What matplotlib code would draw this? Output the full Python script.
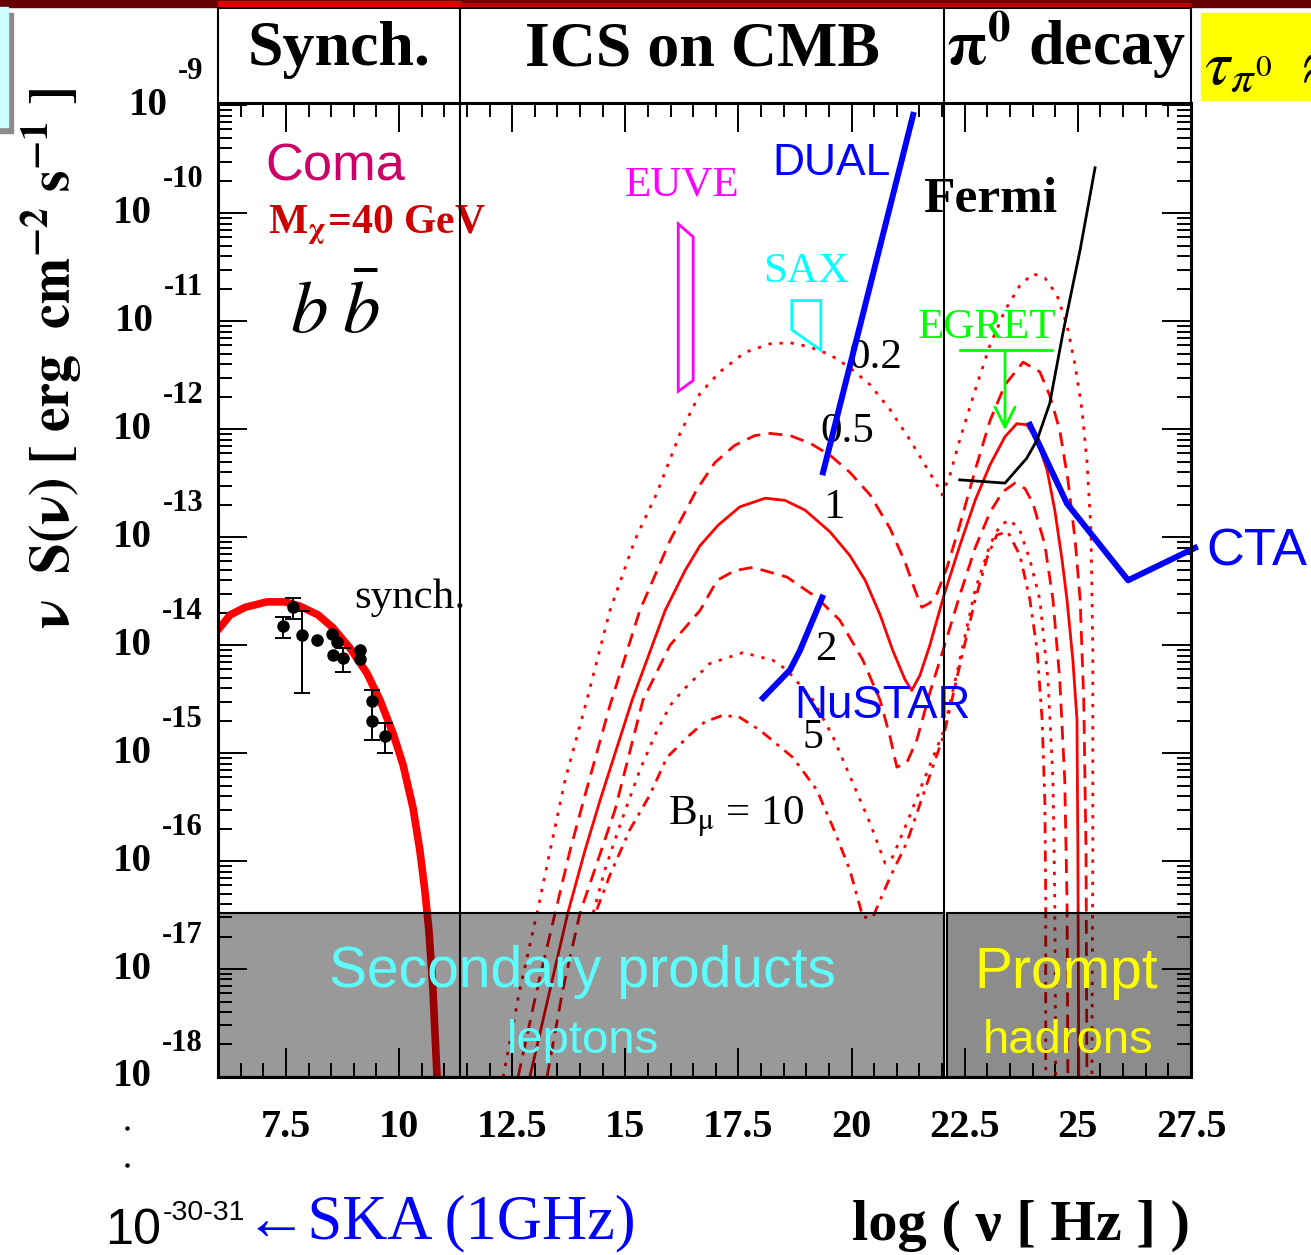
import numpy as np
import matplotlib
matplotlib.use('Agg')
import matplotlib.pyplot as plt
from matplotlib import font_manager
from matplotlib.patches import Rectangle, Polygon
from matplotlib.lines import Line2D
from matplotlib.ticker import FixedLocator, LogLocator, NullFormatter
from matplotlib.transforms import blended_transform_factory, offset_copy

plt.rcParams['mathtext.fontset'] = 'stix'
SERIF = 'Liberation Serif'
SANS = 'Liberation Sans'
names = {f.name for f in font_manager.fontManager.ttflist}
NARROW = 'Liberation Sans Narrow' if 'Liberation Sans Narrow' in names else SANS
shrink = 1.0 if NARROW != SANS else 0.82   # plain sans is wider than the narrow cut

# everything below is log10: x = log10(nu/Hz), y = log10(nu S(nu) / erg cm^-2 s^-1)

# synchrotron model fitted to the Coma radio halo
synch_x = [6.00, 6.27, 6.60, 7.08, 7.48, 7.81, 8.21, 8.54, 8.92, 9.29, 9.58, 9.87,
           10.09, 10.31, 10.46, 10.57, 10.66, 10.75, 10.84]
synch_y = [-13.86, -13.72, -13.65, -13.60, -13.60, -13.64, -13.72, -13.84, -14.03,
           -14.26, -14.51, -14.82, -15.11, -15.51, -15.90, -16.27, -16.64, -17.19, -18.00]

# radio data
radio_x = [7.44, 7.65, 7.85, 8.18, 8.51, 8.62, 8.55, 8.77, 9.13, 9.13, 9.40, 9.41, 9.69]
radio_y = [-13.82, -13.65, -13.91, -13.95, -13.90, -13.97, -14.09, -14.12, -14.05,
           -14.13, -14.52, -14.70, -14.84]
err_x = [7.44, 7.65, 7.85, 8.77, 9.41, 9.69]
err_y = [-13.82, -13.65, -13.91, -14.12, -14.70, -14.84]
err_lo = [-13.93, -13.76, -14.44, -14.25, -14.88, -15.00]
err_hi = [-13.74, -13.56, -13.68, -14.03, -14.42, -14.72]

# ICS on CMB + pi0 decay, for B = 0.2, 0.5, 1, 2, 5, 10 muG
b02_x = [12.30, 12.67, 13.05, 13.34, 13.67, 14.15, 14.66, 15.21, 15.70, 16.21, 16.65,
         17.09, 17.64, 18.20, 18.64, 19.08, 19.52, 19.96, 20.41, 20.85, 21.29, 21.62,
         21.89, 22.00, 22.17, 22.39, 22.73, 23.06, 23.39, 23.72, 24.01, 24.27, 24.54,
         24.76, 24.94, 25.09, 25.20, 25.29, 25.33, 25.33, 25.31]
b02_y = [-18.00, -17.19, -16.48, -15.90, -15.25, -14.51, -13.68, -13.03, -12.59, -12.04,
         -11.67, -11.47, -11.29, -11.21, -11.20, -11.24, -11.31, -11.43, -11.59, -11.82,
         -12.10, -12.33, -12.52, -12.61, -12.43, -12.10, -11.64, -11.22, -10.90, -10.67,
         -10.56, -10.60, -10.76, -11.04, -11.41, -11.82, -12.29, -12.94, -14.05, -15.90,
         -18.00]

b05_x = [12.63, 13.05, 13.45, 13.78, 14.11, 14.66, 15.32, 15.99, 16.58, 16.98, 17.42,
         17.86, 18.20, 18.64, 19.08, 19.52, 19.96, 20.41, 20.85, 21.18, 21.40, 21.55,
         21.73, 21.89, 22.11, 22.39, 22.73, 23.06, 23.39, 23.79, 24.16, 24.38, 24.60,
         24.78, 24.94, 25.05, 25.13, 25.18, 25.20]
b05_y = [-18.00, -17.19, -16.48, -15.90, -15.39, -14.56, -13.68, -13.03, -12.56, -12.31,
         -12.15, -12.06, -12.04, -12.06, -12.13, -12.24, -12.40, -12.61, -12.92, -13.23,
         -13.49, -13.65, -13.61, -13.52, -13.28, -12.89, -12.38, -11.92, -11.59, -11.38,
         -11.47, -11.69, -12.01, -12.47, -13.03, -13.58, -14.51, -15.90, -18.00]

b1_x = [12.89, 13.73, 14.11, 14.44, 15.15, 15.88, 16.32, 16.65, 17.05, 17.53, 18.09,
        18.53, 18.97, 19.52, 19.96, 20.30, 20.63, 20.91, 21.18, 21.33, 21.51, 21.73,
        22.04, 22.39, 22.73, 23.06, 23.39, 23.65, 23.87, 24.10, 24.32, 24.49, 24.65,
        24.76, 24.89, 24.98, 25.00, 25.02]
b1_y = [-18.00, -16.48, -15.90, -15.44, -14.51, -13.68, -13.31, -13.08, -12.89, -12.72,
        -12.64, -12.66, -12.75, -12.95, -13.17, -13.40, -13.72, -14.05, -14.32, -14.42,
        -14.28, -14.00, -13.54, -13.08, -12.66, -12.33, -12.07, -11.95, -11.96, -12.10,
        -12.38, -12.75, -13.21, -13.58, -14.14, -14.69, -15.90, -18.00]

b2_x = [13.27, 13.62, 14.00, 14.77, 15.39, 15.99, 16.65, 17.03, 17.42, 17.82, 18.57,
        19.23, 19.74, 20.25, 20.63, 20.85, 21.00, 21.22, 21.44, 21.73, 22.02, 22.39,
        22.73, 23.06, 23.34, 23.61, 23.83, 24.01, 24.27, 24.45, 24.60, 24.71, 24.76, 24.78]
b2_y = [-18.00, -17.19, -16.48, -15.53, -14.51, -14.00, -13.68, -13.40, -13.31, -13.28,
        -13.37, -13.56, -13.77, -14.14, -14.51, -14.85, -15.13, -15.09, -14.88, -14.44,
        -14.05, -13.54, -13.10, -12.77, -12.58, -12.50, -12.55, -12.69, -13.07, -13.58,
        -14.32, -15.25, -16.36, -18.00]

b5_x = [14.29, 14.55, 14.88, 15.32, 15.66, 15.99, 16.27, 16.87, 17.60, 18.26, 18.57,
        19.15, 19.59, 20.03, 20.41, 20.74, 20.91, 21.22, 21.51, 21.80, 22.04, 22.39,
        22.73, 23.06, 23.28, 23.50, 23.72, 23.94, 24.16, 24.34, 24.45, 24.49, 24.51]
b5_y = [-16.48, -16.08, -15.67, -15.16, -14.83, -14.56, -14.42, -14.17, -14.07, -14.14,
        -14.23, -14.51, -14.85, -15.28, -15.65, -16.02, -15.96, -15.65, -15.34, -15.04,
        -14.79, -14.14, -13.49, -13.07, -12.89, -12.84, -12.94, -13.21, -13.58, -14.32,
        -15.25, -16.36, -18.00]

b10_x = [14.37, 14.66, 15.10, 15.54, 15.92, 16.43, 16.76, 17.16, 17.53, 17.98, 18.70,
         19.23, 19.59, 19.96, 20.25, 20.47, 20.85, 21.22, 21.62, 22.04, 22.39, 22.73,
         23.01, 23.21, 23.45, 23.72, 23.94, 24.10, 24.21, 24.27, 24.29, 24.29]
b10_y = [-16.45, -16.13, -15.71, -15.39, -15.04, -14.83, -14.71, -14.65, -14.67, -14.79,
         -15.04, -15.34, -15.69, -16.08, -16.52, -16.52, -16.15, -15.83, -15.34, -14.83,
         -14.19, -13.58, -13.17, -12.98, -12.95, -13.17, -13.58, -14.05, -14.69, -15.44,
         -16.36, -18.00]

# instrument sensitivities and upper limits
dual_x = [19.37, 21.36]
dual_y = [-12.40, -9.09]
nustar_x = [18.04, 18.64, 18.86, 19.35]
nustar_y = [-14.49, -14.23, -14.05, -13.56]
cta_x = [23.94, 24.76, 26.11, 27.59]
cta_y = [-11.96, -12.69, -13.40, -13.10]
fermi_x = [22.39, 23.39, 23.87, 24.10, 24.38, 24.67, 25.05, 25.38]
fermi_y = [-12.47, -12.50, -12.27, -12.10, -11.76, -11.11, -10.34, -9.58]
egret_x = [22.39, 24.43]
egret_y = -11.27
egret_arrow_x = 23.39
egret_arrow_to = -12.01
euve_x = [16.17, 16.50, 16.50, 16.17]
euve_y = [-10.10, -10.22, -11.55, -11.65]
sax_x = [18.68, 19.32, 19.32, 18.68]
sax_y = [-10.81, -10.81, -11.27, -11.08]

# panel separations
x_ics = 11.35
x_pi0 = 22.04
band_top = -16.48


def lin(v):
    return 10.0 ** np.asarray(v, dtype=float)


W, H = 1311, 1255
fig = plt.figure(figsize=(W / 100, H / 100), dpi=100)


def fx(px):
    return px / W


def fy(py):
    return 1 - py / H


ax = fig.add_axes([fx(218), fy(1077), fx(1191) - fx(218), fy(103) - fy(1077)])
ax.set_yscale('log')
ax.set_xlim(6, 27.5)
ax.set_ylim(1e-18, 10 ** -8.98)

red = '#ff0000'
dotted = (0, (1.2, 2.8))
dashed = (0, (5, 3))
dashdot = (0, (4, 2.5, 1.2, 2.5))
ax.plot(b02_x, lin(b02_y), color=red, lw=2, ls=dotted)
ax.plot(b05_x, lin(b05_y), color=red, lw=2, ls=dashed)
ax.plot(b1_x, lin(b1_y), color=red, lw=2, ls='-')
ax.plot(b2_x, lin(b2_y), color=red, lw=2, ls=dashed)
ax.plot(b5_x, lin(b5_y), color=red, lw=2, ls=dotted)
ax.plot(b10_x, lin(b10_y), color=red, lw=2, ls=dashdot)

ax.plot(synch_x, lin(synch_y), color=red, lw=5.5)
ax.plot(radio_x, lin(radio_y), 'o', color='k', ms=8, zorder=4)
ey = lin(err_y)
ax.errorbar(err_x, ey, yerr=[ey - lin(err_lo), lin(err_hi) - ey], fmt='none',
            ecolor='k', elinewidth=1.4, capsize=6, capthick=1.4, zorder=4)

# sensitivities
blue = '#0000ff'
ax.plot(dual_x, lin(dual_y), color=blue, lw=4.3, zorder=5)
ax.plot(nustar_x, lin(nustar_y), color=blue, lw=4.3, zorder=5)
ax.plot(cta_x, lin(cta_y), color=blue, lw=4.3, zorder=5, clip_on=False)
ax.plot(fermi_x, lin(fermi_y), color='k', lw=2, zorder=5)
ax.plot(egret_x, lin([egret_y, egret_y]), color='#00ff00', lw=2, zorder=5)
ax.annotate('', xy=(egret_arrow_x, 10 ** egret_arrow_to), xytext=(egret_arrow_x, 10 ** egret_y),
            arrowprops=dict(arrowstyle='->', color='#00ff00', lw=2, mutation_scale=36,
                            shrinkA=0, shrinkB=0), zorder=5)
ax.add_patch(Polygon(np.column_stack([euve_x, lin(euve_y)]), closed=True, fill=False,
                     edgecolor='#ff00ff', lw=2, zorder=5))
ax.add_patch(Polygon(np.column_stack([sax_x, lin(sax_y)]), closed=True, fill=False,
                     edgecolor='#00ffff', lw=2, zorder=5))

# grey band below the sensitivity floor
ax.add_patch(Rectangle((6, 1e-18), x_pi0 - 6, 10 ** band_top - 1e-18,
                       facecolor=(0, 0, 0, 0.4), edgecolor='k', lw=1.5, zorder=6))
ax.add_patch(Rectangle((x_pi0 + 0.07, 1e-18), 27.5 - x_pi0 - 0.07, 10 ** band_top - 1e-18,
                       facecolor=(0, 0, 0, 0.45), edgecolor='k', lw=1.5, zorder=6))

# panel dividers, continued into the header row
hdr = (fy(8) - fy(1077)) / (fy(103) - fy(1077))
for xd in (x_ics, x_pi0):
    ax.axvline(xd, 0, hdr, color='k', lw=1.5, clip_on=False, zorder=7)
ax.plot([0, 0], [1, hdr], transform=ax.transAxes, color='k', lw=1.5, clip_on=False)
ax.plot([1, 1], [1, hdr], transform=ax.transAxes, color='k', lw=1.5, clip_on=False)
ax.plot([0, 1], [hdr, hdr], transform=ax.transAxes, color='k', lw=1.5, clip_on=False)

# ticks
xt = np.arange(7.5, 27.6, 2.5)
ax.set_xticks(xt, labels=['7.5', '10', '12.5', '15', '17.5', '20', '22.5', '25', '27.5'],
              fontsize=29, fontweight='bold', family=SERIF)
ax.xaxis.set_minor_locator(FixedLocator(np.arange(6, 27.51, 0.5)))
ax.set_yticks(lin(range(-18, -8)), labels=[''] * 10)
ax.yaxis.set_minor_locator(LogLocator(base=10, subs=np.arange(2, 10), numticks=50))
ax.yaxis.set_minor_formatter(NullFormatter())
ax.tick_params(which='both', direction='in', top=True, right=True, width=1.4)
ax.tick_params(which='major', length=21)
ax.tick_params(which='minor', length=10)
ax.tick_params(axis='x', pad=23)
for s in ax.spines.values():
    s.set_linewidth(2.2)
    s.set_zorder(8)

# y tick labels: "10" with the exponent raised above it
renderer = fig.canvas.get_renderer()
tr = blended_transform_factory(fig.transFigure, ax.transData)
tr_up = offset_copy(tr, fig=fig, x=0, y=24, units='points')
for k in range(-18, -8):
    te = fig.text(fx(203), 10.0 ** k, '%d' % k, transform=tr_up, ha='right', va='center',
                  fontsize=22, fontweight='bold', family=SERIF)
    bb = te.get_window_extent(renderer)
    fig.text((bb.x0 - 10) / fig.bbox.width, 10.0 ** k, '10', transform=tr, ha='right',
             va='center', fontsize=28, fontweight='bold', family=SERIF)


# in-plot annotations
def note(x, ly, s, **kw):
    kw.setdefault('va', 'baseline')
    kw.setdefault('ha', 'left')
    ax.text(x, 10.0 ** ly, s, **kw)


note(7.04, -9.694, 'Coma', family=NARROW, fontsize=46 * shrink, color='#cc0066')
note(7.10, -10.185, r'M$_{\mathbf{\chi}}$=40 GeV', family=SERIF, fontsize=30,
     fontweight='bold', color='#cc0000')
note(7.59, -11.111, r'$b\;\bar{b}$', fontsize=54)
note(14.99, -9.833, 'EUVE', family=SERIF, fontsize=31, color='#ff00ff')
note(18.26, -9.648, 'DUAL', family=NARROW, fontsize=39 * shrink, color=blue)
note(21.58, -9.991, 'Fermi', family=SERIF, fontsize=37, fontweight='bold')
note(18.04, -10.639, 'SAX', family=SERIF, fontsize=31, color='#00ffff')
note(21.47, -11.157, 'EGRET', family=SERIF, fontsize=31, color='#00ff00', zorder=6)
note(19.92, -11.435, '0.2', family=SERIF, fontsize=31)
note(19.30, -12.12, '0.5', family=SERIF, fontsize=31)
note(19.37, -12.824, '1', family=SERIF, fontsize=31)
note(19.19, -14.139, '2', family=SERIF, fontsize=31)
note(18.925, -14.954, '5', family=SERIF, fontsize=30)
note(15.94, -15.667, r'B$_{\mathrm{\mu}}$ = 10', family=SERIF, fontsize=31)
note(9.00, -13.657, 'synch.', family=SERIF, fontsize=31)
note(18.73, -14.676, 'NuSTAR', family=NARROW, fontsize=40 * shrink, color=blue, zorder=6)
note(27.85, -13.259, 'CTA', family=NARROW, fontsize=46 * shrink, color=blue, clip_on=False)
note(14.06, -17.167, 'Secondary products', family=SANS, fontsize=41,
     color='#5cffff', ha='center', zorder=9)
note(14.06, -17.778, 'leptons', family=SANS, fontsize=34,
     color='#5cffff', ha='center', zorder=9)
note(24.74, -17.176, 'Prompt', family=SANS, fontsize=41,
     color='#ffff00', ha='center', zorder=9)
note(24.78, -17.778, 'hadrons', family=SANS, fontsize=34,
     color='#ffff00', ha='center', zorder=9)

# header row
fig.text(fx(339), fy(65), 'Synch.', ha='center', va='baseline', fontsize=46,
         fontweight='bold', family=SERIF)
fig.text(fx(702), fy(65), 'ICS on CMB', ha='center', va='baseline', fontsize=46,
         fontweight='bold', family=SERIF)
fig.text(fx(1066), fy(65), r'$\mathbf{\pi}^{\mathbf{0}}$ decay', ha='center', va='baseline',
         fontsize=46, fontweight='bold', family=SERIF)

# slide decorations around the plot
fig.add_artist(Rectangle((0, fy(7)), 1, 1 - fy(7), transform=fig.transFigure,
                         color='#660000', zorder=0))
fig.add_artist(Rectangle((fx(218), fy(6)), fx(460) - fx(218), fy(1) - fy(6),
                         transform=fig.transFigure, color='#e00000', zorder=1))
fig.add_artist(Rectangle((fx(460), fy(6)), fx(1190) - fx(460), fy(3) - fy(6),
                         transform=fig.transFigure, color='#c00000', zorder=1))
fig.add_artist(Rectangle((0, fy(133)), fx(13), fy(13) - fy(133), transform=fig.transFigure,
                         color='#8c8c8c', zorder=0))
fig.add_artist(Rectangle((0, fy(127)), fx(8), fy(7) - fy(127), transform=fig.transFigure,
                         color='#ccffff', zorder=1))
fig.add_artist(Rectangle((fx(1201), fy(100)), 1 - fx(1201), fy(13) - fy(100),
                         transform=fig.transFigure, color='#ffff00', zorder=0))
fig.text(fx(1204), fy(84), r'$\tau_{\pi^{0}}\ \approx$', fontsize=46, va='baseline')

# axis titles
fig.text(fx(52), fy(358), r'$\mathbf{\nu\ \ S(\nu)\ [\ erg\ \ cm^{-2}\ s^{-1}\ ]}$',
         rotation=90, ha='center', va='center', fontsize=40)
fig.text(fx(1190), fy(1240), 'log ( ν [ Hz ] )', ha='right', va='baseline', fontsize=42,
         fontweight='bold', family=SERIF)
fig.text(fx(105), fy(1244), '10', family=NARROW, fontsize=44 * shrink, va='baseline')
fig.text(fx(163), fy(1220), '-30-31', family=NARROW, fontsize=25 * shrink, va='baseline')
fig.text(fx(245), fy(1238), '←SKA (1GHz)', family=[SERIF, 'DejaVu Serif'], color=blue,
         fontsize=45, va='baseline')
fig.add_artist(Line2D([fx(127), fx(127)], [fy(1128), fy(1165)], transform=fig.transFigure,
                      ls='none', marker='o', ms=2.2, color='k'))

fig.savefig('out.png', dpi=100)
